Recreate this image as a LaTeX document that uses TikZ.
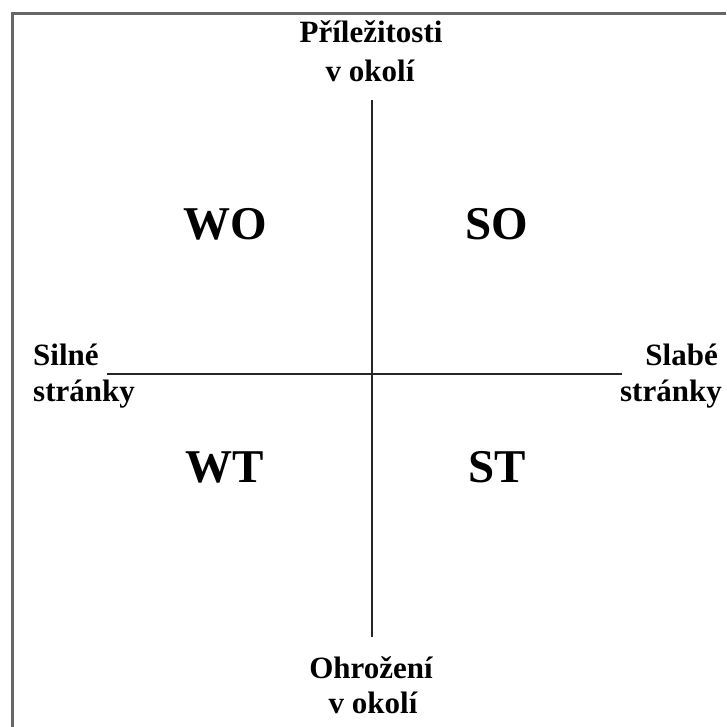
\documentclass[tikz,border=0pt]{standalone}
\usepackage{fontspec}
\setmainfont{Liberation Serif}
\begin{document}
\begin{tikzpicture}[x=1pt,y=-1pt,
  lbl/.style={inner sep=0pt, font=\fontsize{31}{31}\selectfont\bfseries},
  quad/.style={inner sep=0pt, font=\fontsize{47}{47}\selectfont\bfseries},
  axis/.style={line width=1.6pt, black!85},
  frame/.style={line width=3pt, black!60}]
\useasboundingbox (0,0) rectangle (726,727);
\fill[white] (0,0) rectangle (726,727);
% frame (top and left edges visible)
\coordinate (fbl) at (12,727);
\coordinate (ftl) at (12,14);
\coordinate (ftr) at (726,14);
\draw[frame] (fbl) -- (ftl) -- (ftr);
% axes
\coordinate (vtop) at (372,100);
\coordinate (vbot) at (372,637);
\coordinate (hl) at (107,374);
\coordinate (hr) at (622,374);
\draw[axis] (vtop) -- (vbot);
\draw[axis] (hl) -- (hr);
% labels
\node[lbl, anchor=base] (p1) at (371,43) {Příležitosti};
\node[lbl, anchor=base] (p2) at (370,82) {v okolí};
\node[lbl, anchor=base west] (s1) at (33,365) {Silné};
\node[lbl, anchor=base west] (s2) at (33,401) {stránky};
\node[lbl, anchor=base east] (w1) at (718,365) {Slabé};
\node[lbl, anchor=base east] (w2) at (722,401) {stránky};
\node[lbl, anchor=base] (o1) at (371,678) {Ohrožení};
\node[lbl, anchor=base] (o2) at (373,713) {v okolí};
% quadrants
\node[quad, anchor=base] (wo) at (225,239) {WO};
\node[quad, anchor=base] (so) at (497,239) {SO};
\node[quad, anchor=base] (wt) at (225,482) {WT};
\node[quad, anchor=base] (st) at (497,482) {ST};
\end{tikzpicture}
\end{document}
